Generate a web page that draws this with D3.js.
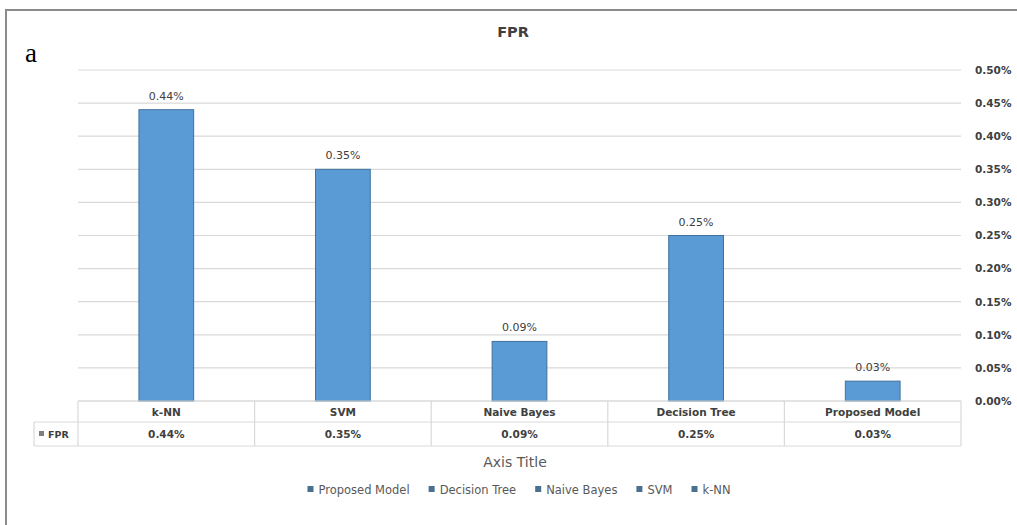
<!DOCTYPE html>
<html>
<head>
<meta charset="utf-8">
<script src="https://cdn.jsdelivr.net/npm/d3@7/dist/d3.min.js"></script>
<style>
  html, body { margin: 0; padding: 0; background: #fff; }
  svg text { font-family: "DejaVu Sans", "Liberation Sans", sans-serif; }
</style>
</head>
<body>
<svg id="chart" width="1017" height="525"></svg>
<script>
// FPR per classifier (percent)
const categories = ["k-NN", "SVM", "Naive Bayes", "Decision Tree", "Proposed Model"];
const fprValues = [0.44, 0.35, 0.09, 0.25, 0.03];
const yTicks = [0, 0.05, 0.10, 0.15, 0.20, 0.25, 0.30, 0.35, 0.40, 0.45, 0.50];
const legendOrder = ["Proposed Model", "Decision Tree", "Naive Bayes", "SVM", "k-NN"];
const seriesName = "FPR";

const svg = d3.select("#chart");
const W = 1017, H = 525;
const m = { left: 78, right: 961, top: 70, bottom: 401 };

const barFill = "#5b9bd5", barStroke = "#41719c";
const gridColor = "#d9d9d9", textColor = "#404040";
const pct = d => d.toFixed(2) + "%";

// outer frame (left and top edges)
svg.append("line").attr("x1", 6).attr("x2", 6).attr("y1", 9).attr("y2", H)
  .attr("stroke", "#8c8c8c").attr("stroke-width", 2);
svg.append("line").attr("x1", 5).attr("x2", W).attr("y1", 10).attr("y2", 10)
  .attr("stroke", "#8c8c8c").attr("stroke-width", 2);

// panel letter
svg.append("text").attr("x", 25).attr("y", 62)
  .style("font-family", "'Liberation Serif', 'DejaVu Serif', serif")
  .attr("font-size", 27).attr("fill", "#000").text("a");

// title
svg.append("text").attr("x", 513).attr("y", 37).attr("text-anchor", "middle")
  .attr("font-size", 14.5).attr("font-weight", "bold").attr("fill", "#404040").text(seriesName);

const x = d3.scaleBand().domain(categories).range([m.left, m.right]).padding(0);
const y = d3.scaleLinear().domain([0, 0.5]).range([m.bottom, m.top]);

// gridlines
svg.append("g").selectAll("line").data(yTicks).join("line")
  .attr("x1", m.left).attr("x2", m.right)
  .attr("y1", d => y(d)).attr("y2", d => y(d))
  .attr("stroke", gridColor).attr("stroke-width", 1.2);

// right value axis
const yAxis = d3.axisRight(y).tickValues(yTicks).tickFormat(pct).tickSize(0).tickPadding(0);
const ga = svg.append("g").attr("transform", `translate(${m.right + 14},0)`).call(yAxis);
ga.select(".domain").remove();
ga.selectAll("text").attr("font-size", 10.5).attr("font-weight", "bold").attr("fill", textColor)
  .attr("font-family", "'DejaVu Sans', sans-serif");

// bars
const bw = x.bandwidth() * 0.31;
svg.append("g").selectAll("rect").data(fprValues).join("rect")
  .attr("x", (d, i) => x(categories[i]) + x.bandwidth() / 2 - bw / 2)
  .attr("y", d => y(d))
  .attr("width", bw)
  .attr("height", d => y(0) - y(d))
  .attr("fill", barFill).attr("stroke", barStroke).attr("stroke-width", 1);

// data labels
svg.append("g").selectAll("text").data(fprValues).join("text")
  .attr("x", (d, i) => x(categories[i]) + x.bandwidth() / 2)
  .attr("y", d => y(d) - 10)
  .attr("text-anchor", "middle").attr("font-size", 11).attr("fill", textColor)
  .text(pct);

// data table under the plot
const rowTop = m.bottom, rowMid = 422, rowBot = 446, keyLeft = 34;
const tbl = svg.append("g").attr("stroke", gridColor).attr("stroke-width", 1.2);
tbl.append("line").attr("x1", m.left).attr("x2", m.right).attr("y1", rowTop).attr("y2", rowTop);
tbl.append("line").attr("x1", keyLeft).attr("x2", m.right).attr("y1", rowMid).attr("y2", rowMid);
tbl.append("line").attr("x1", keyLeft).attr("x2", m.right).attr("y1", rowBot).attr("y2", rowBot);
tbl.append("line").attr("x1", keyLeft).attr("x2", keyLeft).attr("y1", rowMid).attr("y2", rowBot);
tbl.selectAll(".v").data(categories.concat(["end"])).join("line")
  .attr("x1", (d, i) => m.left + i * x.step()).attr("x2", (d, i) => m.left + i * x.step())
  .attr("y1", rowTop).attr("y2", rowBot);

svg.append("g").selectAll("text").data(categories).join("text")
  .attr("x", d => x(d) + x.bandwidth() / 2).attr("y", 416)
  .attr("text-anchor", "middle").attr("font-size", 10.5).attr("font-weight", "bold")
  .attr("fill", textColor).text(d => d);

svg.append("g").selectAll("text").data(fprValues).join("text")
  .attr("x", (d, i) => x(categories[i]) + x.bandwidth() / 2).attr("y", 438)
  .attr("text-anchor", "middle").attr("font-size", 10.5).attr("font-weight", "bold")
  .attr("fill", textColor).text(pct);

// series key in the table
svg.append("rect").attr("x", 39).attr("y", 431).attr("width", 5).attr("height", 5).attr("fill", "#7f7f7f");
svg.append("text").attr("x", 48).attr("y", 438).attr("font-size", 9.5).attr("font-weight", "bold")
  .attr("fill", textColor).text(seriesName);

// axis title
svg.append("text").attr("x", 515).attr("y", 467).attr("text-anchor", "middle")
  .attr("font-size", 14).attr("fill", "#595959").text("Axis Title");

// legend: entries laid out left to right, centred under the plot
const legendFont = 11.5, swatch = 6, swatchGap = 5, entryGap = 19;
const lg = svg.append("g").attr("transform", "translate(0,494)");
const entries = lg.selectAll("g").data(legendOrder).join("g");
entries.append("rect").attr("x", 0).attr("y", -8).attr("width", swatch).attr("height", swatch)
  .attr("fill", "#4a6f8f");
entries.append("text").attr("x", swatch + swatchGap).attr("y", 0)
  .attr("font-size", legendFont).attr("fill", "#595959").text(d => d);
const widths = [];
entries.each(function () { widths.push(this.querySelector("text").getComputedTextLength() + swatch + swatchGap); });
const total = d3.sum(widths) + entryGap * (widths.length - 1);
let cx = 519 - total / 2;
entries.attr("transform", (d, i) => {
  const t = `translate(${cx},0)`;
  cx += widths[i] + entryGap;
  return t;
});
</script>
</body>
</html>
